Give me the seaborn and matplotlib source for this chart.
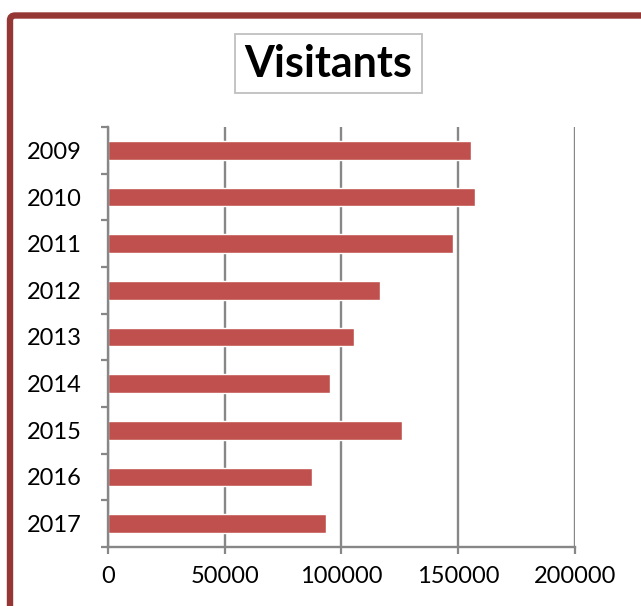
import numpy as np
import pandas as pd
import matplotlib
matplotlib.use("Agg")
import matplotlib.pyplot as plt
from matplotlib.patches import FancyBboxPatch
from matplotlib.ticker import FixedLocator
import seaborn as sns

# data
years = ["2009", "2010", "2011", "2012", "2013", "2014", "2015", "2016", "2017"]
visitants = [155500, 157000, 147600, 116700, 105300, 95000, 126000, 87300, 93200]
x_ticks = [0, 50000, 100000, 150000, 200000]

df = pd.DataFrame({"Year": years, "Visitants": visitants})

sns.set_theme(style="white")
plt.rcParams["font.family"] = ["Lato", "DejaVu Sans"]

bar_color = "#C0504D"
axis_gray = "#878787"

fig = plt.figure(figsize=(6.41, 6.06), dpi=100)
ax = fig.add_axes([0.1685, 0.0974, 0.897 - 0.1685, 0.7904 - 0.0974])

sns.barplot(data=df, x="Visitants", y="Year", orient="h", color=bar_color,
            width=0.4, saturation=1, ax=ax)

ax.set_xlim(0, 200000)
ax.set_ylim(8.5, -0.5)
ax.set_xticks(x_ticks)
ax.set_xticklabels([str(t) for t in x_ticks])
ax.set_xlabel("")
ax.set_ylabel("")

# vertical gridlines
ax.grid(axis="x", color=axis_gray, linewidth=1.7)
ax.grid(axis="y", visible=False)
ax.set_axisbelow(True)

for side in ["top", "right"]:
    ax.spines[side].set_visible(False)
for side in ["left", "bottom"]:
    ax.spines[side].set_color(axis_gray)
    ax.spines[side].set_linewidth(1.7)

# category boundary ticks on the y axis
ax.yaxis.set_minor_locator(FixedLocator(np.arange(-0.5, 9.0, 1.0)))
ax.tick_params(axis="y", which="minor", left=True, length=5, width=1.6, color=axis_gray)
ax.tick_params(axis="y", which="major", left=True, length=0, pad=19, labelsize=17, labelcolor="black")
ax.tick_params(axis="x", which="major", bottom=True, length=5, width=1.6, color=axis_gray,
               pad=9, labelsize=17, labelcolor="black")

# title in a thin box
fig.text(0.5125, 0.895, "Visitants", ha="center", va="center", fontsize=31,
         fontweight="bold", color="black",
         bbox=dict(boxstyle="square,pad=0.22", facecolor="white", edgecolor="#BFBFBF", linewidth=1.3))

# dark red rounded frame, running off the right and bottom edges
frame = FancyBboxPatch((10 / 641, -0.05), 1.1, 1 - 15.5 / 606 + 0.05,
                       boxstyle="round,pad=0,rounding_size=0.008",
                       transform=fig.transFigure, facecolor="none",
                       edgecolor="#953735", linewidth=4.6, clip_on=False)
fig.patches.append(frame)

fig.savefig("out.png", dpi=100)
